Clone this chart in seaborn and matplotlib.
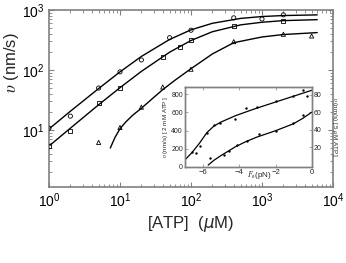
import pandas as pd
import seaborn as sns
from matplotlib import pyplot as plt
from matplotlib.ticker import FixedLocator, LogLocator, NullFormatter

# main panel: velocity vs [ATP] at three loads
atp_circle = [1, 2, 5, 10, 20, 50, 100, 400, 1000, 2000]
v_circle = [10.7, 17, 50, 93, 147, 345, 460, 740, 708, 830]
atp_square = [1, 2, 5, 10, 40, 70, 100, 400, 2000]
v_square = [5.4, 9.7, 27.8, 50, 166, 245, 316, 548, 664]
atp_triangle = [5, 10, 20, 40, 100, 400, 2000, 5000]
v_triangle = [6.2, 11, 24, 52, 103, 297, 394, 369]

# fitted curves
fit_atp = [1, 2, 5, 10, 20, 50, 100, 200, 500, 1000, 2000, 6000]
fit_circle = [10.4, 20.5, 49, 93, 168, 323, 467, 600, 724, 778, 808, 829]
fit_square = [5.4, 10.7, 26.3, 50.7, 94.7, 198, 310, 434, 565, 625, 665, 690]
fit_atp_tri = [7.3, 8.5, 10, 12, 15, 20, 30, 40, 60, 100, 200, 400, 1000, 2000, 6000]
fit_triangle = [5.0, 7.5, 10.5, 13.5, 17.5, 23, 35, 47, 68, 105, 185, 285, 355, 390, 420]

# inset: velocity vs load force
force_hi = [-6.61, -6.40, -6.18, -5.81, -5.39, -5.04, -4.25, -3.65, -3.01, -1.98, -1.02, -0.47, -0.24]
v_hi = [160, 153, 234, 372, 458, 483, 532, 644, 662, 725, 781, 852, 785]
force_lo = [-5.63, -4.85, -4.56, -4.12, -3.60, -2.90, -1.98, -1.02, -0.47]
v_lo = [8.3, 10.9, 15.6, 22.5, 27.6, 35.2, 38.8, 48.3, 56.5]

fit_force_hi = [-7.0, -6.6, -6.2, -5.8, -5.4, -5.0, -4.6, -4.2, -3.5, -3.0, -2.0, -1.0, 0.0]
fit_hi = [75, 160, 260, 375, 450, 495, 530, 565, 615, 650, 715, 780, 845]
fit_force_lo = [-5.72, -5.4, -5.0, -4.6, -4.2, -3.6, -3.0, -2.0, -1.0, -0.5, 0.0]
fit_lo = [0, 5.5, 11, 16, 21, 27, 32, 39, 47, 53, 60]

sns.set_theme(style="ticks")
plt.rcParams["font.family"] = ["Liberation Sans", "DejaVu Sans"]

FRAME = "#808080"

fig = plt.figure(figsize=(3.46, 2.63), dpi=100)
ax = fig.add_axes([0.1416, 0.289, 0.8208, 0.673])

for xs, ys, mk in [(atp_circle, v_circle, "o"), (atp_square, v_square, "s"),
                   (atp_triangle, v_triangle, "^")]:
    df = pd.DataFrame({"atp": xs, "v": ys})
    sns.scatterplot(data=df, x="atp", y="v", marker=mk, s=9, facecolor="none",
                    edgecolor="black", linewidth=0.6, ax=ax, zorder=3)

for xs, ys in [(fit_atp, fit_circle), (fit_atp, fit_square), (fit_atp_tri, fit_triangle)]:
    df = pd.DataFrame({"atp": xs, "v": ys})
    sns.lineplot(data=df, x="atp", y="v", color="black", linewidth=1.0, ax=ax,
                 estimator=None, sort=False)

ax.set_xscale("log")
ax.set_yscale("log")
ax.set_xlim(1, 1e4)
ax.set_ylim(1.12, 1000)
ax.xaxis.set_major_locator(LogLocator(base=10, numticks=10))
ax.xaxis.set_minor_locator(LogLocator(base=10, subs=range(2, 10), numticks=20))
ax.yaxis.set_minor_locator(LogLocator(base=10, subs=range(2, 10), numticks=20))
ax.xaxis.set_minor_formatter(NullFormatter())
ax.yaxis.set_minor_formatter(NullFormatter())
ax.tick_params(which="both", direction="in", top=True, right=True, colors="black",
               labelsize=10, pad=3)
ax.tick_params(which="major", length=3.5, width=0.8, color=FRAME)
ax.tick_params(which="minor", length=2, width=0.6, color=FRAME)
for sp in ax.spines.values():
    sp.set_color(FRAME)
    sp.set_linewidth(1.2)

ax.set_xlabel("[ATP]  ($\\mu$M)", fontsize=12, labelpad=3, math_fontfamily="dejavusans")
ax.set_ylabel("$\\upsilon$ (nm/s)", fontsize=12, math_fontfamily="stix")
ax.yaxis.set_label_coords(-0.1, 0.70)

# inset
ins = fig.add_axes([0.5347, 0.3662, 0.3662, 0.3042])
df_hi = pd.DataFrame({"f": force_hi, "v": v_hi})
sns.scatterplot(data=df_hi, x="f", y="v", color="black", s=3, linewidth=0, ax=ins, zorder=3)
sns.lineplot(data=pd.DataFrame({"f": fit_force_hi, "v": fit_hi}), x="f", y="v",
             color="black", linewidth=0.9, ax=ins, estimator=None, sort=False)
ins.set_xlim(-7.0, 0)
ins.set_ylim(0, 885)
ins.yaxis.set_major_locator(FixedLocator([0, 200, 400, 600, 800]))
ins.xaxis.set_major_locator(FixedLocator([-6, -4, -2, 0]))

ins2 = ins.twinx()
df_lo = pd.DataFrame({"f": force_lo, "v": v_lo})
sns.scatterplot(data=df_lo, x="f", y="v", color="black", s=3, linewidth=0, ax=ins2, zorder=3)
sns.lineplot(data=pd.DataFrame({"f": fit_force_lo, "v": fit_lo}), x="f", y="v",
             color="black", linewidth=0.9, ax=ins2, estimator=None, sort=False)
ins2.set_ylim(-1.8, 89)
ins2.yaxis.set_major_locator(FixedLocator([20, 40, 60, 80]))

for a in (ins, ins2):
    a.tick_params(which="both", direction="in", labelsize=5, pad=1.5, length=2,
                  width=0.5, color=FRAME, top=True)
    for sp in a.spines.values():
        sp.set_color(FRAME)
        sp.set_linewidth(1.0)
ins.tick_params(axis="x", labelsize=5.5, pad=1.5)

ins.set_xlabel("$F_\\mathrm{e}$(pN)", fontsize=5.8, math_fontfamily="stix", va="top")
ins.xaxis.set_label_coords(0.585, -0.03)
ins.set_ylabel("$\\upsilon$ (nm/s) [ 2 mM ATP ]", fontsize=4.5, labelpad=1,
               math_fontfamily="stix")
ins2.set_ylabel("$\\upsilon$ (nm/s) [ 5 $\\mu$M ATP ]", fontsize=4.5, labelpad=6,
                rotation=270, va="bottom", math_fontfamily="stix")

fig.savefig("out.png", dpi=100)
